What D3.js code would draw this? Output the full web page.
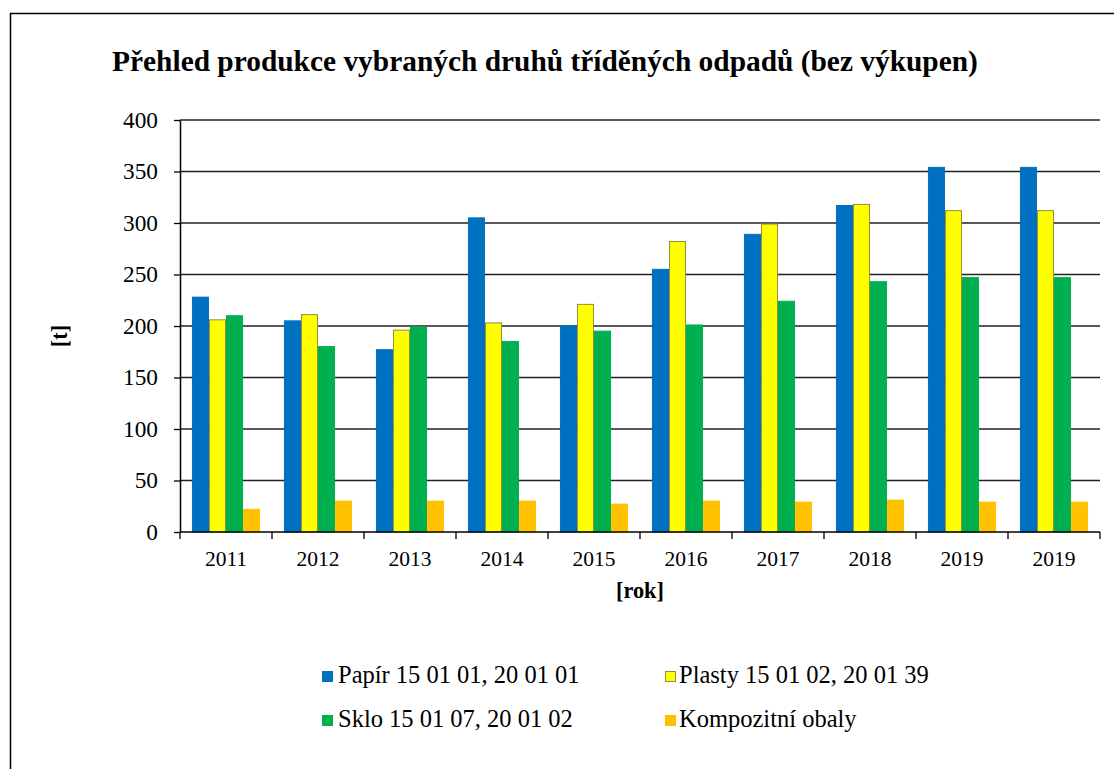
<!DOCTYPE html>
<html>
<head>
<meta charset="utf-8">
<script src="https://cdn.jsdelivr.net/npm/d3@7"></script>
<style>
  body { margin: 0; background: #fff; }
</style>
</head>
<body>
<div id="chart"></div>
<script>
// categories (last year appears twice in the original)
const years = ["2011", "2012", "2013", "2014", "2015", "2016", "2017", "2018", "2019", "2019"];

// series values [t]
const papir = [228, 205, 177, 305, 200, 255, 289, 317, 354, 354];
const plasty = [206, 211, 196, 203, 221, 282, 299, 318, 312, 312];
const sklo = [210, 180, 199, 185, 195, 201, 224, 243, 247, 247];
const kompozit = [22, 30, 30, 30, 27, 30, 29, 31, 29, 29];

const seriesNames = ["Papír 15 01 01, 20 01 01", "Plasty 15 01 02, 20 01 39", "Sklo 15 01 07, 20 01 02", "Kompozitní obaly"];
const seriesColors = ["#0070C0", "#FFFF00", "#00B050", "#FFC000"];
const seriesStroke = ["#0070C0", "#8f8f3a", "#00B050", "#FFC000"];
const yTicks = [0, 50, 100, 150, 200, 250, 300, 350, 400];

const FONT = "'Liberation Serif', 'Times New Roman', serif";
const W = 1114, H = 769;
const margin = { top: 120, left: 180 };
const width = 1100 - margin.left;
const height = 532 - margin.top;

const svg = d3.select("#chart")
  .append("svg")
    .attr("width", W)
    .attr("height", H)
    .style("font-family", FONT);

// outer frame (runs past the picture on the right and bottom)
svg.append("rect")
  .attr("x", 10.5).attr("y", 13.5)
  .attr("width", 1130).attr("height", 800)
  .attr("fill", "none")
  .attr("stroke", "#000")
  .attr("stroke-width", 1.5);

// title
svg.append("text")
  .attr("x", 545)
  .attr("y", 71)
  .attr("text-anchor", "middle")
  .style("font-family", FONT)
  .style("font-size", "29.4px")
  .style("font-weight", "bold")
  .text("Přehled produkce vybraných druhů tříděných odpadů (bez výkupen)");

const g = svg.append("g")
  .attr("transform", `translate(${margin.left},${margin.top})`);

// scales
const x0 = d3.scaleBand()
  .domain(d3.range(years.length))
  .range([0, width])
  .paddingInner(0)
  .paddingOuter(0);

const x1 = d3.scaleBand()
  .domain(d3.range(seriesNames.length))
  .range([0, x0.bandwidth()])
  .paddingInner(0)
  .paddingOuter(0.7);

const y = d3.scaleLinear()
  .domain([0, 400])
  .range([height, 0]);

// gridlines
g.append("g")
  .selectAll("line")
  .data(yTicks.filter(d => d > 0))
  .enter()
  .append("line")
    .attr("x1", 0)
    .attr("x2", width)
    .attr("y1", d => y(d))
    .attr("y2", d => y(d))
    .attr("stroke", "#222")
    .attr("stroke-width", 1.3);

// bars
const series = [papir, plasty, sklo, kompozit];
const rows = years.map((yr, i) => series.map((s, k) => ({ i: i, k: k, v: s[i] })));

g.append("g")
  .selectAll("g")
  .data(rows)
  .enter()
  .append("g")
    .attr("transform", (d, i) => `translate(${x0(i)},0)`)
  .selectAll("rect")
  .data(d => d)
  .enter()
  .append("rect")
    .attr("x", d => x1(d.k) + 0.5)
    .attr("y", d => y(d.v))
    .attr("width", x1.bandwidth() - 1)
    .attr("height", d => height - y(d.v))
    .attr("fill", d => seriesColors[d.k])
    .attr("stroke", d => seriesStroke[d.k])
    .attr("stroke-width", 1);

// y axis
const yAxis = g.append("g")
  .call(d3.axisLeft(y).tickValues(yTicks).tickSize(6).tickSizeOuter(0).tickPadding(16));
yAxis.attr("font-family", null).attr("font-size", null);
yAxis.select(".domain").attr("stroke", "#000").attr("stroke-width", 1.5);
yAxis.selectAll(".tick line").attr("stroke", "#000").attr("stroke-width", 1.3);
yAxis.selectAll("text")
  .attr("fill", "#000")
  .style("font-family", FONT)
  .style("font-size", "23.3px");

// x axis: ticks on category boundaries
const xAxis = g.append("g")
  .attr("transform", `translate(0,${height})`);
xAxis.append("line")
  .attr("x1", 0).attr("x2", width)
  .attr("stroke", "#000").attr("stroke-width", 1.5);
xAxis.selectAll(".bound")
  .data(d3.range(years.length + 1))
  .enter()
  .append("line")
    .attr("class", "bound")
    .attr("x1", d => d < years.length ? x0(d) : width)
    .attr("x2", d => d < years.length ? x0(d) : width)
    .attr("y1", 0)
    .attr("y2", 7)
    .attr("stroke", "#000")
    .attr("stroke-width", 1.3);
xAxis.selectAll(".lbl")
  .data(years)
  .enter()
  .append("text")
    .attr("class", "lbl")
    .attr("x", (d, i) => x0(i) + x0.bandwidth() / 2)
    .attr("y", 34)
    .attr("text-anchor", "middle")
    .style("font-family", FONT)
    .style("font-size", "21.5px")
    .text(d => d);

// axis titles
svg.append("text")
  .attr("x", margin.left + width / 2)
  .attr("y", 598)
  .attr("text-anchor", "middle")
  .style("font-family", FONT)
  .style("font-size", "22.3px")
  .style("font-weight", "bold")
  .text("[rok]");

svg.append("text")
  .attr("transform", "translate(67,336)rotate(-90)")
  .attr("text-anchor", "middle")
  .style("font-family", FONT)
  .style("font-size", "22.3px")
  .style("font-weight", "bold")
  .text("[t]");

// legend
const legendPos = [[322, 683], [665, 683], [322, 727], [665, 727]];
const legend = svg.append("g")
  .selectAll("g")
  .data(seriesNames)
  .enter()
  .append("g")
    .attr("transform", (d, i) => `translate(${legendPos[i][0]},${legendPos[i][1]})`);
legend.append("rect")
  .attr("x", 0.5).attr("y", -11.5)
  .attr("width", 10).attr("height", 10)
  .attr("fill", (d, i) => seriesColors[i])
  .attr("stroke", (d, i) => seriesStroke[i]);
legend.append("text")
  .attr("x", (d, i) => i % 2 === 0 ? 16 : 14)
  .attr("y", 0)
  .style("font-family", FONT)
  .style("font-size", "24.5px")
  .text(d => d);
</script>
</body>
</html>
